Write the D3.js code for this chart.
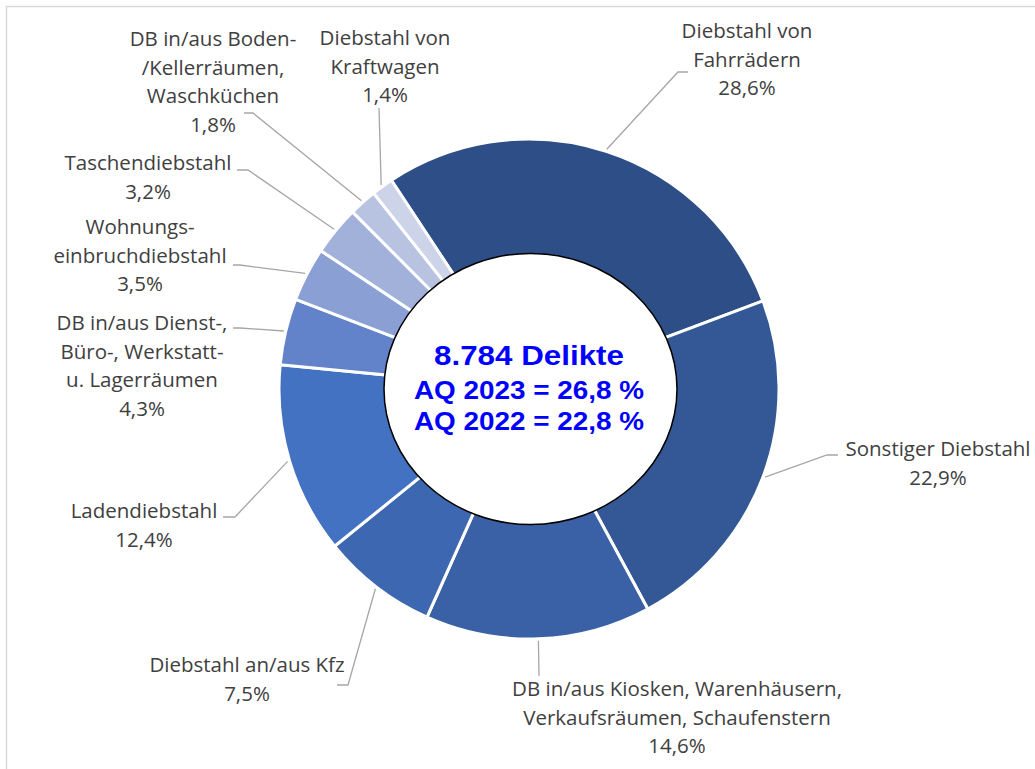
<!DOCTYPE html>
<html>
<head>
<meta charset="utf-8">
<style>
  body { margin: 0; background: #fff; }
  .lbl { font-family: "Open Sans", sans-serif; font-size: 20.5px; fill: #404040; }
  .center { font-family: "Liberation Sans", Arial, sans-serif; font-weight: bold; fill: #0000ff; }
</style>
</head>
<body>
<script src="https://cdn.jsdelivr.net/npm/d3@7"></script>
<script>
var width = 1035, height = 769;

// data
var categories = ["Diebstahl von Fahrrädern", "Sonstiger Diebstahl",
  "DB in/aus Kiosken, Warenhäusern, Verkaufsräumen, Schaufenstern",
  "Diebstahl an/aus Kfz", "Ladendiebstahl",
  "DB in/aus Dienst-, Büro-, Werkstatt- u. Lagerräumen",
  "Wohnungseinbruchdiebstahl", "Taschendiebstahl",
  "DB in/aus Boden-/Kellerräumen, Waschküchen", "Diebstahl von Kraftwagen"];
var shares = [28.6, 22.9, 14.6, 7.5, 12.4, 4.3, 3.5, 3.2, 1.8, 1.4];
var labelLines = [
  ["Diebstahl von", "Fahrrädern"],
  ["Sonstiger Diebstahl"],
  ["DB in/aus Kiosken, Warenhäusern,", "Verkaufsräumen, Schaufenstern"],
  ["Diebstahl an/aus Kfz"],
  ["Ladendiebstahl"],
  ["DB in/aus Dienst-,", "Büro-, Werkstatt-", "u. Lagerräumen"],
  ["Wohnungs-", "einbruchdiebstahl"],
  ["Taschendiebstahl"],
  ["DB in/aus Boden-", "/Kellerräumen,", "Waschküchen"],
  ["Diebstahl von", "Kraftwagen"]
];
var colors = ["#2d4e86", "#335895", "#3a60a5", "#3e67b1", "#4472c2",
  "#6283c9", "#8a9fd4", "#a2b1da", "#b8c3e2", "#cdd4ea"];
var centerLines = ["8.784 Delikte", "AQ 2023 = 26,8 %", "AQ 2022 = 22,8 %"];

// label layout: text centre x, first baseline y, elbow point, end point of leader
var labelPos = [
  {x: 747, y: 38, elbow: [678, 72], end: [688, 72]},
  {x: 938, y: 456, elbow: [827, 455], end: [838, 455]},
  {x: 677, y: 696, elbow: [539, 676], end: [539, 676]},
  {x: 247, y: 672, elbow: [348, 685], end: [337, 685]},
  {x: 144, y: 518, elbow: [235, 517], end: [223, 517]},
  {x: 142, y: 330, elbow: [240, 328], end: [233, 328]},
  {x: 140, y: 234, elbow: [240, 265], end: [233, 265]},
  {x: 148, y: 170, elbow: [248, 170], end: [237, 170]},
  {x: 213, y: 46, elbow: [253, 113], end: [244, 113]},
  {x: 385, y: 45, elbow: [379, 108], end: [379, 108]}
];
var centerStyle = [
  {y: 365, size: 27, len: 190},
  {y: 399, size: 26, len: 230},
  {y: 430, size: 26, len: 230}
];

var cx = 529, cy = 389, outerR = 250, innerR = 125, lineH = 28.5;

var svg = d3.select("body").append("svg")
    .attr("width", width)
    .attr("height", height);

// frame
svg.append("rect")
    .attr("x", 6.5).attr("y", 6.5)
    .attr("width", width + 20).attr("height", height + 20)
    .attr("fill", "#fff")
    .attr("stroke", "#d9d9d9")
    .attr("stroke-width", 1.5);

var start = -33.4 * Math.PI / 180;
var pie = d3.pie().sort(null).startAngle(start).endAngle(start + 2 * Math.PI);
var arcs = pie(shares);

var arc = d3.arc().innerRadius(innerR).outerRadius(outerR);
var edge = d3.arc().innerRadius(outerR + 2).outerRadius(outerR + 2);

var g = svg.append("g").attr("transform", "translate(" + cx + "," + cy + ")");

g.selectAll("path.slice")
  .data(arcs)
  .enter().append("path")
    .attr("class", "slice")
    .attr("d", arc)
    .attr("fill", function(d, i) { return colors[i]; })
    .attr("stroke", "#fff")
    .attr("stroke-width", 3);

// leader lines
svg.selectAll("polyline.leader")
  .data(arcs)
  .enter().append("polyline")
    .attr("class", "leader")
    .attr("points", function(d, i) {
      var c = edge.centroid(d);
      var p = labelPos[i];
      return [[cx + c[0], cy + c[1]], p.elbow, p.end].join(" ");
    })
    .attr("fill", "none")
    .attr("stroke", "#a6a6a6")
    .attr("stroke-width", 1.3);

// labels
var fmt = function(v) { return v.toFixed(1).replace(".", ",") + "%"; };
var lbl = svg.selectAll("text.lbl")
  .data(arcs)
  .enter().append("text")
    .attr("class", "lbl")
    .attr("text-anchor", "middle");

lbl.each(function(d, i) {
  var t = d3.select(this);
  var lines = labelLines[i].concat([fmt(shares[i])]);
  lines.forEach(function(s, k) {
    t.append("tspan")
      .attr("x", labelPos[i].x)
      .attr("y", labelPos[i].y + k * lineH)
      .text(s);
  });
});

// centre ellipse
svg.append("ellipse")
    .attr("cx", 530.5).attr("cy", 389)
    .attr("rx", 146.5).attr("ry", 135.5)
    .attr("fill", "#fff")
    .attr("stroke", "#000")
    .attr("stroke-width", 1.5);

centerLines.forEach(function(s, k) {
  var st = centerStyle[k];
  svg.append("text")
    .attr("class", "center")
    .attr("text-anchor", "middle")
    .attr("x", 529)
    .attr("y", st.y)
    .attr("font-size", st.size)
    .attr("textLength", st.len)
    .attr("lengthAdjust", "spacingAndGlyphs")
    .text(s);
});
</script>
</body>
</html>
